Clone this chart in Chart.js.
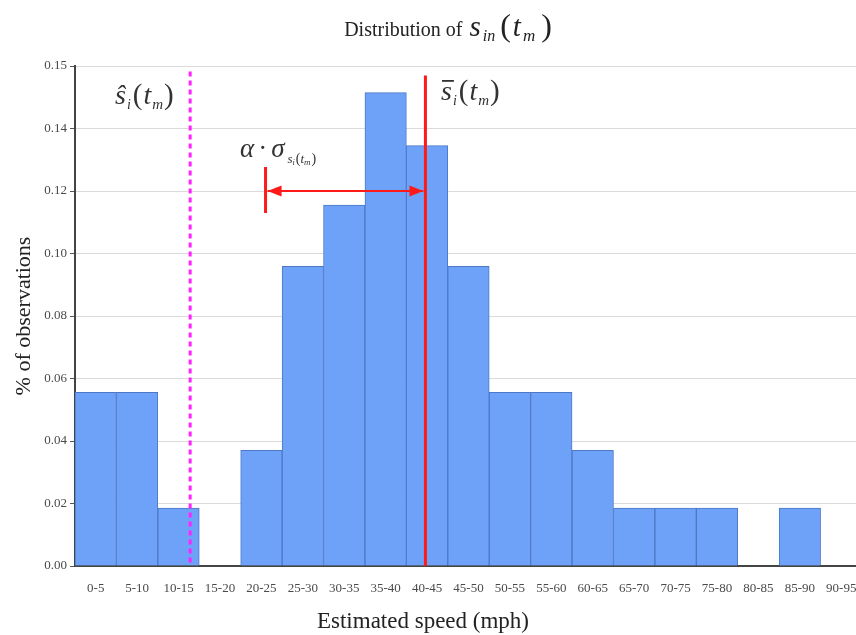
<!DOCTYPE html>
<html>
<head>
<meta charset="utf-8">
<script src="https://cdn.jsdelivr.net/npm/chart.js@4.4.1/dist/chart.umd.min.js"></script>
<style>
  html, body { margin: 0; padding: 0; background: #fff; overflow: hidden; }
  #wrap { position: relative; width: 900px; height: 635px; }
</style>
</head>
<body>
<div id="wrap"><canvas id="c" width="900" height="635"></canvas></div>
<script>
// ---- data ----
const categories = ['0-5','5-10','10-15','15-20','20-25','25-30','30-35','35-40','40-45','45-50',
                    '50-55','55-60','60-65','65-70','70-75','75-80','80-85','85-90','90-95'];
const shares = [0.0556,0.0556,0.0185,0,0.0370,0.0959,0.1155,0.1515,0.1345,0.0959,
                0.0556,0.0556,0.0370,0.0185,0.0185,0.0185,0,0.0185,0];
const yTickValues = [0,0.02,0.04,0.06,0.08,0.10,0.12,0.14,0.16];
const yTickLabels = ['0.00','0.02','0.04','0.06','0.08','0.10','0.12','0.14','0.15'];
// marker speeds (mph) and share levels
const estSpeed = 13.9;        // s-hat_i(t_m)
const meanSpeed = 42.3;       // s-bar_i(t_m)
const sigmaStartSpeed = 23.0; // mean - alpha*sigma
const arrowLevel = 0.12;
const lineTop = 0.157;

const SERIF = '"Liberation Serif", "Times New Roman", serif';
const BIN = 5;

function speedToIndex(s) { return s / BIN - 0.5; }

function measureParts(ctx, parts) {
  let w = 0;
  parts.forEach(p => { ctx.font = p.font; w += ctx.measureText(p.t).width + (p.dx || 0); });
  return w;
}
function drawParts(ctx, x, y, parts, color) {
  ctx.save();
  ctx.fillStyle = color;
  ctx.textBaseline = 'alphabetic';
  ctx.textAlign = 'left';
  let cx = x;
  const pos = [];
  parts.forEach(p => {
    ctx.font = p.font;
    cx += (p.dx || 0);
    ctx.fillText(p.t, cx, y + (p.dy || 0));
    const w = ctx.measureText(p.t).width;
    pos.push({ x: cx, w: w });
    cx += w;
  });
  ctx.restore();
  return pos;
}

const overlay = {
  id: 'overlay',
  afterDatasetsDraw(chart) {
    const ctx = chart.ctx;
    const xs = chart.scales.x, ys = chart.scales.y;
    const px = s => xs.getPixelForValue(speedToIndex(s));
    const py = v => ys.getPixelForValue(v);

    // magenta dashed estimate line
    ctx.save();
    ctx.strokeStyle = '#ff22ff';
    ctx.lineWidth = 3;
    ctx.setLineDash([5, 4]);
    ctx.beginPath();
    ctx.moveTo(px(estSpeed), py(lineTop) - 4);
    ctx.lineTo(px(estSpeed), py(0));
    ctx.stroke();
    ctx.restore();

    // red mean line
    ctx.save();
    ctx.strokeStyle = '#ff1a1a';
    ctx.lineWidth = 3;
    ctx.beginPath();
    ctx.moveTo(px(meanSpeed), py(lineTop));
    ctx.lineTo(px(meanSpeed), py(0));
    ctx.stroke();

    // sigma arrow
    const xl = px(sigmaStartSpeed), xr = px(meanSpeed) - 2, ya = py(arrowLevel);
    ctx.lineWidth = 3;
    ctx.beginPath();
    ctx.moveTo(xl, ya - 24);
    ctx.lineTo(xl, ya + 22);
    ctx.stroke();
    ctx.lineWidth = 2;
    ctx.beginPath();
    ctx.moveTo(xl + 2, ya);
    ctx.lineTo(xr, ya);
    ctx.stroke();
    ctx.fillStyle = '#ff1a1a';
    ctx.beginPath();
    ctx.moveTo(xl + 2, ya); ctx.lineTo(xl + 16, ya - 5.5); ctx.lineTo(xl + 16, ya + 5.5); ctx.closePath(); ctx.fill();
    ctx.beginPath();
    ctx.moveTo(xr, ya); ctx.lineTo(xr - 14, ya - 5.5); ctx.lineTo(xr - 14, ya + 5.5); ctx.closePath(); ctx.fill();
    ctx.restore();

    const it = n => 'italic ' + n + 'px ' + SERIF;
    const rg = n => n + 'px ' + SERIF;
    const col = '#333';

    // s-hat label
    drawParts(ctx, 115, 104, [
      { t: 'ŝ', font: it(28) },
      { t: 'i', font: it(14), dy: 5, dx: 1 },
      { t: '(', font: rg(29), dx: 2 },
      { t: 't', font: it(28), dx: 1 },
      { t: 'm', font: it(15), dy: 5, dx: 1 },
      { t: ')', font: rg(29), dx: 1 }
    ], col);

    // s-bar label
    const sb = drawParts(ctx, 441, 100, [
      { t: 's', font: it(28) },
      { t: 'i', font: it(14), dy: 5, dx: 1 },
      { t: '(', font: rg(29), dx: 2 },
      { t: 't', font: it(28), dx: 1 },
      { t: 'm', font: it(15), dy: 5, dx: 1 },
      { t: ')', font: rg(29), dx: 1 }
    ], col);
    ctx.save();
    ctx.fillStyle = col;
    ctx.fillRect(sb[0].x + 1, 80, sb[0].w + 1, 1.8);
    ctx.restore();

    // alpha * sigma label
    drawParts(ctx, 240, 157, [
      { t: 'α', font: it(27) },
      { t: '·', font: rg(27), dx: 4 },
      { t: 'σ', font: it(27), dx: 4 },
      { t: 's', font: it(13), dy: 6, dx: 3 },
      { t: 'i', font: it(8), dy: 8 },
      { t: '(', font: rg(14), dy: 6, dx: 1 },
      { t: 't', font: it(13), dy: 6 },
      { t: 'm', font: it(9), dy: 8 },
      { t: ')', font: rg(14), dy: 6, dx: 1 }
    ], col);

    // main title
    const titleParts = [
      { t: 'Distribution of ', font: rg(20) },
      { t: 's', font: it(29), dx: 2 },
      { t: 'in', font: it(16), dy: 5, dx: 2 },
      { t: '(', font: rg(32), dx: 5 },
      { t: 't', font: it(29), dx: 2 },
      { t: 'm', font: it(17), dy: 5, dx: 2 },
      { t: ')', font: rg(32), dx: 6 }
    ];
    const tw = measureParts(ctx, titleParts);
    drawParts(ctx, 448 - tw / 2, 36, titleParts, '#222');

    // x axis title
    ctx.save();
    ctx.font = rg(23);
    ctx.fillStyle = '#222';
    ctx.textAlign = 'center';
    ctx.textBaseline = 'alphabetic';
    ctx.fillText('Estimated speed (mph)', 423, 628);
    ctx.restore();
  }
};

new Chart(document.getElementById('c'), {
  type: 'bar',
  data: {
    labels: categories,
    datasets: [{
      data: shares,
      backgroundColor: '#6ea2f9',
      borderColor: '#4c78c6',
      borderWidth: 1,
      barPercentage: 1.0,
      categoryPercentage: 1.0
    }]
  },
  options: {
    responsive: false,
    animation: false,
    devicePixelRatio: 1,
    layout: { padding: { top: 66, right: 38, bottom: 0, left: 0 } },
    plugins: { legend: { display: false }, title: { display: false }, tooltip: { enabled: false } },
    scales: {
      x: {
        offset: true,
        grid: { display: false, drawTicks: false },
        border: { display: true, color: '#444', width: 2 },
        ticks: { color: '#4a4a4a', font: { family: SERIF, size: 13 }, padding: 15, maxRotation: 0, autoSkip: false },
        afterFit(s) { s.height = 69; }
      },
      y: {
        min: 0, max: 0.16,
        afterBuildTicks(s) { s.ticks = yTickValues.map(v => ({ value: v })); },
        grid: { color: '#dadada', lineWidth: 1, tickLength: 5, tickColor: '#555' },
        border: { display: true, color: '#444', width: 2 },
        ticks: {
          color: '#4a4a4a', font: { family: SERIF, size: 13 }, padding: 3,
          callback: (v, i) => yTickLabels[i]
        },
        title: {
          display: true, text: '% of observations', color: '#222',
          font: { family: SERIF, size: 22 }, padding: { top: 11, bottom: 0 }
        },
        afterFit(s) { s.width = 75; }
      }
    }
  },
  plugins: [overlay]
});
</script>
</body>
</html>
